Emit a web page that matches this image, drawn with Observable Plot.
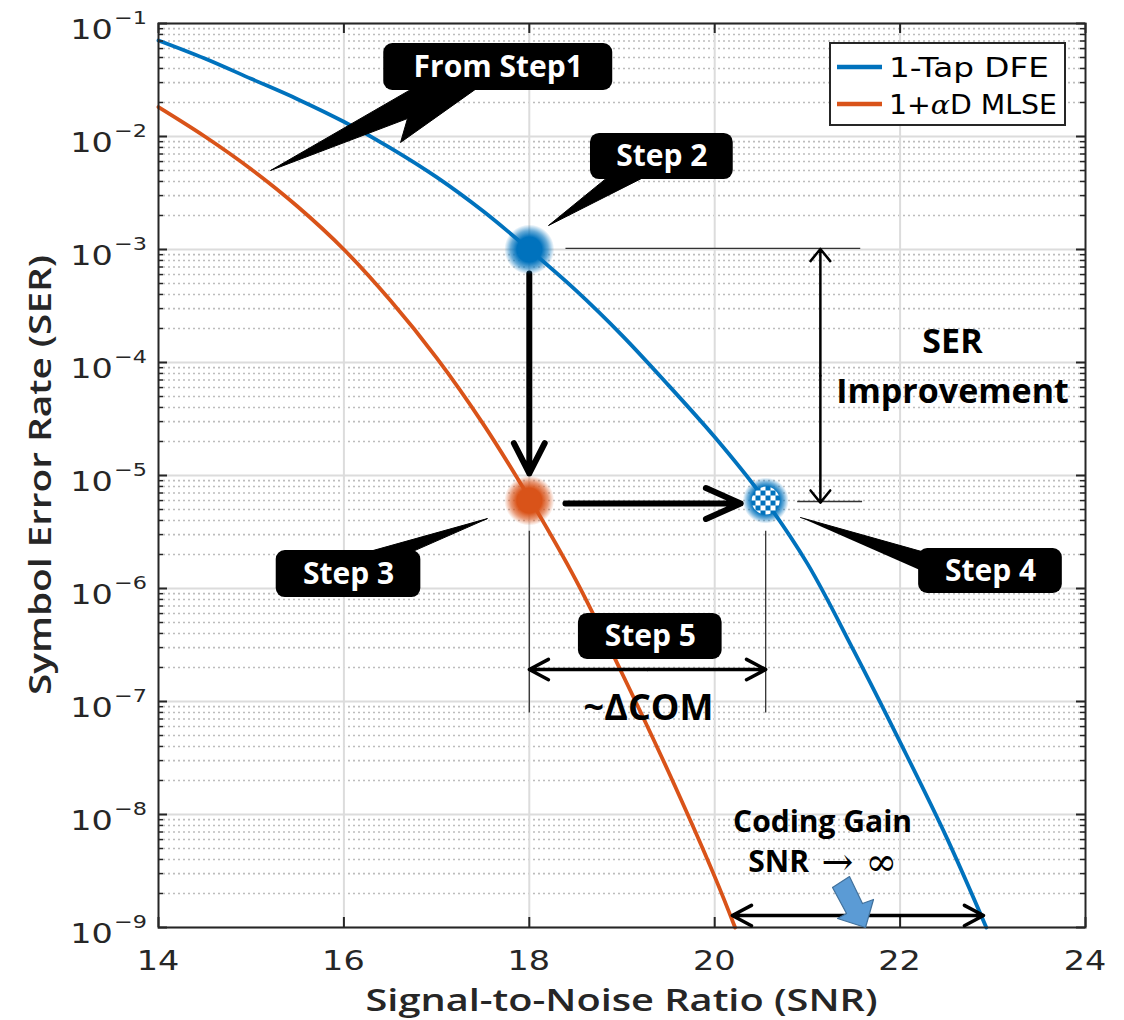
<!DOCTYPE html>
<html>
<head>
<meta charset="utf-8">
<script src="https://cdn.jsdelivr.net/npm/d3@7"></script>
<script src="https://cdn.jsdelivr.net/npm/@observablehq/plot@0.6"></script>
<style>
  html, body { margin: 0; padding: 0; background: #ffffff; }
  #chart { width: 1124px; height: 1020px; }
</style>
</head>
<body>
<div id="chart"></div>
<script>
// ---------------- data ----------------
const seriesNames = ["1-Tap DFE", "1+αD MLSE"];
const seriesColors = ["#0072BD", "#D95319"];
const snrDFE = [14, 14.5, 15, 15.5, 16, 16.5, 17, 17.5, 18, 18.5, 19, 19.5, 20, 20.5, 21, 21.5, 22, 22.5, 22.93];
const serDFE = [7.08e-2, 4.90e-2, 3.24e-2, 2.14e-2, 1.35e-2, 7.94e-3, 4.37e-3, 2.19e-3, 1.00e-3, 4.37e-4, 1.74e-4, 6.31e-5, 2.19e-5, 6.76e-6, 1.66e-6, 2.82e-7, 4.37e-8, 6.31e-9, 1.00e-9];
const snrMLSE = [14, 14.5, 15, 15.5, 16, 16.5, 17, 17.5, 18, 18.5, 19, 19.5, 20, 20.22];
const serMLSE = [1.82e-2, 1.00e-2, 5.13e-3, 2.40e-3, 1.00e-3, 3.55e-4, 1.10e-4, 2.88e-5, 6.31e-6, 1.20e-6, 1.78e-7, 2.40e-8, 2.82e-9, 1.00e-9];
const xTicks = [14, 16, 18, 20, 22, 24];
const yTicks = [1e-9, 1e-8, 1e-7, 1e-6, 1e-5, 1e-4, 1e-3, 1e-2, 1e-1];
const yTickExponents = ["−9", "−8", "−7", "−6", "−5", "−4", "−3", "−2", "−1"];
const xLabel = "Signal-to-Noise Ratio (SNR)";
const yLabel = "Symbol Error Rate (SER)";

// annotation geometry, in data units: SNR and log10(SER)
const stepPoints = [
  {name: "Step 2", snr: 18, ser: 1.0e-3},
  {name: "Step 3", snr: 18, ser: 6.0e-6},
  {name: "Step 4", snr: 20.55, ser: 6.0e-6}
];
const calloutBoxes = [
  {label: "From Step1", x1: 16.43, x2: 18.90, e1: -1.177, e2: -1.593},
  {label: "Step 2", x1: 18.66, x2: 20.20, e1: -1.973, e2: -2.381},
  {label: "Step 3", x1: 15.27, x2: 16.83, e1: -5.664, e2: -6.080},
  {label: "Step 4", x1: 22.20, x2: 23.75, e1: -5.646, e2: -6.044},
  {label: "Step 5", x1: 18.53, x2: 20.08, e1: -6.221, e2: -6.628}
];
const calloutPointers = [
  {id: "From Step1", pts: [[16.794, -1.55], [15.208, -2.301], [16.686, -1.841], [16.611, -2.053], [17.474, -1.55]]},
  {id: "Step 2", pts: [[18.876, -2.34], [18.207, -2.788], [19.286, -2.34]]},
  {id: "Step 3", pts: [[16.157, -5.70], [17.549, -5.381], [16.665, -5.70]]},
  {id: "Step 4", pts: [[20.926, -5.372], [22.35, -5.70], [22.25, -5.85]]}
];
const stepArrows = [
  {x1: 18.0, e1: -3.212, x2: 18.0, e2: -4.982, kind: "down"},
  {x1: 18.39, e1: -5.248, x2: 20.28, e2: -5.248, kind: "right"}
];
const doubleArrows = [
  {x1: 21.14, e1: -2.995, x2: 21.14, e2: -5.24, kind: "thin"},
  {x1: 18.0, e1: -6.717, x2: 20.55, e2: -6.717, kind: "mid"},
  {x1: 20.19, e1: -8.894, x2: 22.90, e2: -8.894, kind: "mid"}
];
const guideLines = [
  {x1: 18.39, e1: -2.99, x2: 21.57, e2: -2.99},
  {x1: 20.89, e1: -5.23, x2: 21.59, e2: -5.23},
  {x1: 18.0, e1: -5.49, x2: 18.0, e2: -7.097},
  {x1: 20.55, e1: -5.49, x2: 20.55, e2: -7.097}
];
const noteTexts = [
  {text: "SER", x: 22.565, e: -3.823, size: 34, weight: 700},
  {text: "Improvement", x: 22.565, e: -4.265, size: 34, weight: 700},
  {text: "~ΔCOM", x: 19.286, e: -7.062, size: 36, weight: 700},
  {text: "Coding Gain", x: 21.163, e: -8.071, size: 30, weight: 700},
  {text: "SNR", x: 20.69, e: -8.425, size: 30, weight: 700},
  {text: "→ ∞", x: 21.56, e: -8.425, size: 38, weight: 400}
];
const blockArrow = [[21.271, -8.646], [21.454, -8.549], [21.594, -8.788], [21.713, -8.752], [21.627, -9.0], [21.325, -8.920], [21.422, -8.876], [21.271, -8.646]];

// ---------------- derived tables ----------------
const E = (e) => 10 ** e;
const dfe = snrDFE.map((x, i) => ({snr: x, ser: serDFE[i]}));
const mlse = snrMLSE.map((x, i) => ({snr: x, ser: serMLSE[i]}));
const minorY = yTicks.slice(0, -1).flatMap((d) => [2, 3, 4, 5, 6, 7, 8, 9].map((m) => m * d));
const pointerPts = calloutPointers.flatMap((p) => p.pts.map(([x, e]) => ({id: p.id, x, e})));
const blockPts = blockArrow.map(([x, e]) => ({x, e}));
const halfArrows = doubleArrows.flatMap((a) => {
  const mx = (a.x1 + a.x2) / 2, me = (a.e1 + a.e2) / 2;
  return [
    {kind: a.kind, x1: mx, e1: me, x2: a.x1, e2: a.e1},
    {kind: a.kind, x1: mx, e1: me, x2: a.x2, e2: a.e2}
  ];
});

const ML = 158, MR = 39, MT = 23, MB = 93, W = 1124, H = 1020;
const FW = W - ML - MR, FH = H - MT - MB;
const axisColor = "#262626";
const STRETCH = 1.24; // the reference figure's axis text is widened horizontally

function defsMark() {
  const ns = "http://www.w3.org/2000/svg";
  const defs = document.createElementNS(ns, "defs");
  defs.innerHTML = `
    <radialGradient id="glowBlue"><stop offset="0" stop-color="#0072BD"/><stop offset="0.5" stop-color="#0072BD"/><stop offset="0.75" stop-color="#0072BD" stop-opacity="0.6"/><stop offset="1" stop-color="#0072BD" stop-opacity="0"/></radialGradient>
    <radialGradient id="glowOrange"><stop offset="0" stop-color="#D95319"/><stop offset="0.5" stop-color="#D95319"/><stop offset="0.75" stop-color="#D95319" stop-opacity="0.6"/><stop offset="1" stop-color="#D95319" stop-opacity="0"/></radialGradient>
    <radialGradient id="ringBlue"><stop offset="0" stop-color="#0072BD"/><stop offset="0.6" stop-color="#0072BD"/><stop offset="0.8" stop-color="#0072BD" stop-opacity="0.55"/><stop offset="1" stop-color="#0072BD" stop-opacity="0"/></radialGradient>
    <pattern id="checker" width="10" height="10" patternUnits="userSpaceOnUse"><rect width="10" height="10" fill="#ffffff"/><rect width="5" height="5" fill="#0072BD"/><rect x="5" y="5" width="5" height="5" fill="#0072BD"/></pattern>`;
  return defs;
}

// tick labels and axis titles, placed with Plot's scales
function axisTextMark(index, scales, values, dims) {
  const g = d3.create("svg:g").attr("aria-label", "axis text").attr("fill", axisColor);
  const bottom = dims.height - dims.marginBottom, left = dims.marginLeft;
  const top = dims.marginTop, right = dims.width - dims.marginRight;
  xTicks.forEach((t) => {
    g.append("text")
      .attr("transform", `translate(${scales.x(t)},${bottom + 43}) scale(${STRETCH},1)`)
      .attr("text-anchor", "middle").attr("font-family", "DejaVu Sans").attr("font-size", 27)
      .text(String(t));
  });
  yTicks.forEach((t, i) => {
    const txt = g.append("text")
      .attr("transform", `translate(${left - 11},${scales.y(t) + 16}) scale(${STRETCH},1)`)
      .attr("text-anchor", "end").attr("font-family", "DejaVu Sans").attr("font-size", 27);
    txt.append("tspan").text("10");
    txt.append("tspan").attr("dy", -15).attr("dx", 1).attr("font-size", 18).text(yTickExponents[i]);
  });
  g.append("text")
    .attr("x", (left + right) / 2).attr("y", bottom + 84)
    .attr("text-anchor", "middle").attr("font-family", "Open Sans").attr("font-weight", 600).attr("font-size", 30)
    .attr("textLength", 512).attr("lengthAdjust", "spacingAndGlyphs")
    .text(xLabel);
  g.append("text")
    .attr("transform", `translate(${left - 107},${(top + bottom) / 2}) rotate(-90)`)
    .attr("text-anchor", "middle").attr("font-family", "Open Sans").attr("font-weight", 600).attr("font-size", 30)
    .attr("textLength", 440).attr("lengthAdjust", "spacingAndGlyphs")
    .text(yLabel);
  return g.node();
}

function legendMark(index, scales, values, dims) {
  const g = d3.create("svg:g").attr("aria-label", "legend");
  const right = dims.width - dims.marginRight;
  const bx = right - 255, by = dims.marginTop + 20, bw = 235, bh = 82;
  const widths = [160, 168];
  g.append("rect").attr("x", bx).attr("y", by).attr("width", bw).attr("height", bh)
    .attr("fill", "#ffffff").attr("stroke", axisColor).attr("stroke-width", 2);
  seriesNames.forEach((name, i) => {
    const cy = by + 24 + i * 37;
    g.append("line").attr("x1", bx + 7).attr("x2", bx + 52).attr("y1", cy).attr("y2", cy)
      .attr("stroke", seriesColors[i]).attr("stroke-width", 4.5);
    const t = g.append("text").attr("x", bx + 59).attr("y", cy + 10)
      .attr("text-anchor", "start").attr("textLength", widths[i]).attr("lengthAdjust", "spacingAndGlyphs")
      .attr("font-family", "DejaVu Sans").attr("font-size", 26).attr("fill", "#000");
    const parts = name.split("α");
    if (parts.length > 1) {
      t.append("tspan").text(parts[0]);
      t.append("tspan").attr("font-style", "italic").attr("font-family", "DejaVu Serif").text("α");
      t.append("tspan").text(parts[1]);
    } else t.text(name);
  });
  return g.node();
}

const arrowOpts = (w, len, ang) => ({x1: "x1", y1: (d) => E(d.e1), x2: "x2", y2: (d) => E(d.e2), stroke: "#000", strokeWidth: w, headLength: len, headAngle: ang, strokeLinecap: "round", strokeLinejoin: "round"});
const noteMark = (size, weight, family) => Plot.text(noteTexts.filter((d) => d.size === size && d.weight === weight),
  {x: "x", y: (d) => E(d.e), text: "text", fill: "#000", fontSize: size, fontWeight: weight, fontFamily: family});

const plot = Plot.plot({
  width: W, height: H,
  marginLeft: ML, marginRight: MR, marginTop: MT, marginBottom: MB,
  style: {fontFamily: "DejaVu Sans", color: axisColor, background: "#ffffff", overflow: "visible"},
  x: {domain: [14, 24], axis: null},
  y: {type: "log", domain: [1e-9, 1e-1], axis: null},
  marks: [
    defsMark,
    // grid
    Plot.ruleY(minorY, {stroke: "#bdbdbd", strokeWidth: 1.6, strokeDasharray: "2,3"}),
    Plot.ruleY(yTicks, {stroke: "#dcdcdc", strokeWidth: 2}),
    Plot.ruleX(xTicks.slice(1, -1), {stroke: "#dcdcdc", strokeWidth: 2}),
    // curves
    Plot.line(dfe, {x: "snr", y: "ser", stroke: seriesColors[0], strokeWidth: 3.8, curve: "catmull-rom"}),
    Plot.line(mlse, {x: "snr", y: "ser", stroke: seriesColors[1], strokeWidth: 3.8, curve: "catmull-rom"}),
    // frame and inward ticks
    Plot.frame({stroke: axisColor, strokeWidth: 2}),
    Plot.ruleX(xTicks, {stroke: axisColor, strokeWidth: 2, insetTop: FH - 10}),
    Plot.ruleX(xTicks, {stroke: axisColor, strokeWidth: 2, insetBottom: FH - 10}),
    Plot.ruleY(yTicks, {stroke: axisColor, strokeWidth: 2, insetRight: FW - 9}),
    Plot.ruleY(yTicks, {stroke: axisColor, strokeWidth: 2, insetLeft: FW - 9}),
    Plot.ruleY(minorY, {stroke: axisColor, strokeWidth: 1.5, insetRight: FW - 5}),
    Plot.ruleY(minorY, {stroke: axisColor, strokeWidth: 1.5, insetLeft: FW - 5}),
    axisTextMark,
    legendMark,
    // annotations: guides and arrows
    Plot.link(guideLines, {x1: "x1", y1: (d) => E(d.e1), x2: "x2", y2: (d) => E(d.e2), stroke: "#333333", strokeWidth: 1.3}),
    Plot.arrow(stepArrows.filter((d) => d.kind === "down"), arrowOpts(6, 8.5, 54)),
    Plot.arrow(stepArrows.filter((d) => d.kind === "right"), arrowOpts(6, 9.5, 48)),
    Plot.arrow(halfArrows.filter((d) => d.kind === "thin"), arrowOpts(2.5, 9.4, 78)),
    Plot.arrow(halfArrows.filter((d) => d.kind === "mid"), arrowOpts(3.5, 9.3, 56)),
    // step markers
    Plot.dot(stepPoints.filter((d) => d.name === "Step 2"), {x: "snr", y: "ser", r: 25, fill: "url(#glowBlue)"}),
    Plot.dot(stepPoints.filter((d) => d.name === "Step 3"), {x: "snr", y: "ser", r: 25, fill: "url(#glowOrange)"}),
    Plot.dot(stepPoints.filter((d) => d.name === "Step 4"), {x: "snr", y: "ser", r: 23, fill: "url(#ringBlue)"}),
    Plot.dot(stepPoints.filter((d) => d.name === "Step 4"), {x: "snr", y: "ser", r: 14, fill: "url(#checker)"}),
    // callouts
    Plot.line(pointerPts, {x: "x", y: (d) => E(d.e), z: "id", fill: "#000", stroke: "#000", strokeWidth: 1}),
    Plot.rect(calloutBoxes, {x1: "x1", x2: "x2", y1: (d) => E(d.e1), y2: (d) => E(d.e2), fill: "#000", rx: 9}),
    Plot.text(calloutBoxes, {x: (d) => (d.x1 + d.x2) / 2, y: (d) => E((d.e1 + d.e2) / 2), text: "label", fill: "#fff", fontSize: 30, fontWeight: 700, fontFamily: "Open Sans"}),
    // notes
    noteMark(34, 700, "Open Sans"),
    noteMark(36, 700, "Open Sans"),
    noteMark(30, 700, "Open Sans"),
    noteMark(38, 400, "DejaVu Serif"),
    Plot.line(blockPts, {x: "x", y: (d) => E(d.e), fill: "#5B9BD5", stroke: "#41719C", strokeWidth: 1.2})
  ]
});

document.getElementById("chart").append(plot);
</script>
</body>
</html>
